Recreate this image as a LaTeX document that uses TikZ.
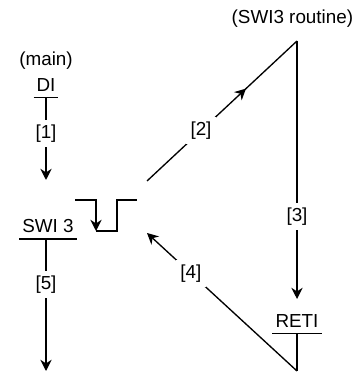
\documentclass[tikz,border=0pt]{standalone}
\usepackage{fontspec}
\setmainfont{Liberation Sans}
\usetikzlibrary{arrows.meta, decorations.markings}

\begin{document}
\begin{tikzpicture}[
  line width=0.95pt,
  every node/.style={font=\fontsize{13.4}{16}\selectfont},
  stmt/.style={anchor=base, inner xsep=0.06cm, inner ysep=0.125cm},
  tag/.style={fill=white, inner sep=0.12cm},
  flow/.style={-{Stealth[length=2.8mm, width=2.8mm, inset=0.9mm]}},
  midflow/.style={postaction={decorate}, decoration={markings,
    mark=at position #1 with {\arrow{Stealth[length=2.8mm, width=2.8mm, inset=0.9mm]}}}}
]
\useasboundingbox (0,0) rectangle (9.1,9.3);

% Nodes
\node[anchor=base] (main) at (1.15,7.65) {(main)};
\node[stmt] (di) at (1.15,7.0) {DI};
\node[stmt] (swi) at (1.2,3.475) {SWI 3};
\node[anchor=base] (routine) at (7.31,8.72) {(SWI3 routine)};
\node[stmt] (reti) at (7.425,1.1) {RETI};

% Ends of the connectors
\coordinate (a1) at (1.15,4.8);
\coordinate (a5) at (1.15,0.025);
\coordinate (s2) at (3.675,4.775);
\coordinate (top) at (7.425,8.275);
\coordinate (a3) at (7.425,1.825);
\coordinate (bot) at (7.425,0.025);
\coordinate (a4) at (3.675,3.475);

% Rules under the instructions
\draw (di.south west) -- (di.south east);
\draw (swi.south west) -- (swi.south east);
\draw (reti.south west) -- (reti.south east);

% Interrupt pulse
\draw[flow] (1.875,4.3) -- (2.4,4.3) -- (2.4,3.525);
\draw (2.4,3.525) -- (2.925,3.525) -- (2.925,4.3) -- (3.425,4.3);

% Edges
\draw[flow] (di.south) -- (a1) node[tag, pos=0.44] {[1]};
\draw[midflow=0.66] (s2) -- (top) node[tag, pos=0.36] {[2]};
\draw[flow] (top) -- (a3) node[tag, pos=0.68] {[3]};
\draw (reti.south) -- (bot);
\draw[flow] (bot) -- (a4) node[tag, pos=0.707] {[4]};
\draw[flow] (swi.south -| a5) -- (a5) node[tag, pos=0.346] {[5]};

\end{tikzpicture}
\end{document}
